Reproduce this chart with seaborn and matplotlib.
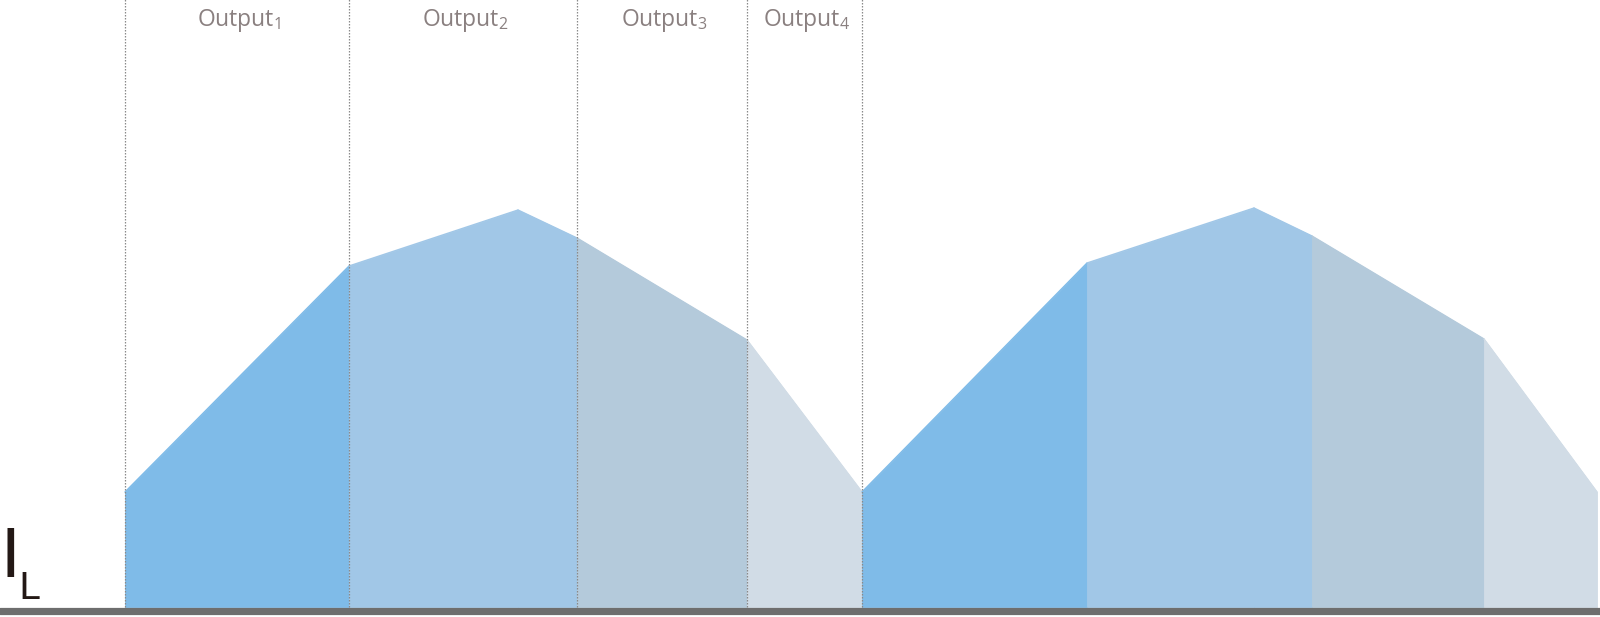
"""
Inductor current waveform shared between four outputs (time-multiplexed),
two switching cycles, each output interval shaded in its own colour.
"""

import matplotlib.pyplot as plt
import numpy as np
import pandas as pd
import seaborn as sns

# ---- data ---------------------------------------------------------------
# time of each breakpoint (arbitrary units) for the two cycles
cycle1_t = [125, 349, 518, 577, 747, 862]
cycle2_t = [862, 1087, 1254, 1312, 1484, 1597]
# inductor current at each breakpoint (arbitrary units)
cycle1_i = [115, 341, 397, 369, 267, 115]
cycle2_i = [115, 344, 399, 371, 268, 115]

# which output each segment of a cycle belongs to (segment between breakpoints)
segment_output = [1, 2, 2, 3, 4]
output_names = ["Output$_{\\mathregular{1}}$", "Output$_{\\mathregular{2}}$",
                "Output$_{\\mathregular{3}}$", "Output$_{\\mathregular{4}}$"]
# boundaries between outputs in the first cycle
output_bounds = [125, 349, 577, 747, 862]

output_colors = ["#7fbbe8", "#a1c7e7", "#b4cadb", "#d1dce6"]

sns.set_style("white")
plt.rcParams["font.family"] = ["Open Sans", "DejaVu Sans"]
plt.rcParams["mathtext.fontset"] = "custom"
plt.rcParams["mathtext.rm"] = "Open Sans"

fig = plt.figure(figsize=(16, 6.17), dpi=100)
ax = fig.add_axes([0, 0, 1, 1])

for t, i in [(cycle1_t, cycle1_i), (cycle2_t, cycle2_i)]:
    for k in range(len(t) - 1):
        color = output_colors[segment_output[k] - 1]
        seg = pd.DataFrame({"t": t[k:k + 2], "i": i[k:k + 2]})
        ax.fill_between(seg["t"], 0, seg["i"], color=color, linewidth=0.6,
                        edgecolor=color)
        sns.lineplot(data=seg, x="t", y="i", color=color, linewidth=1.0,
                     ax=ax, legend=False)

# dotted boundaries for the first cycle
ax.vlines(output_bounds, 0, 617, colors="#8a8a8a", linewidth=0.9,
          linestyles=(0, (1.2, 1.2)), zorder=3)

# output labels centred in each interval
for k, name in enumerate(output_names):
    xc = (output_bounds[k] + output_bounds[k + 1]) / 2 + 2
    ax.text(xc, 587, name, ha="center", va="center", fontsize=16.5,
            color="#8a8080")

# I_L label
ax.text(0.5, 30, "I", fontsize=48, color="#231815", ha="left",
        va="baseline", family="DejaVu Sans")
ax.text(18, 8, "L", fontsize=27, color="#231815", ha="left",
        va="baseline", family="DejaVu Sans")

# baseline
ax.axhline(-3.6, color="#6e6e6e", linewidth=5.2, zorder=4)

ax.set_xlim(0, 1600)
ax.set_ylim(-10, 607)
ax.axis("off")

fig.savefig("out.png", dpi=100)
